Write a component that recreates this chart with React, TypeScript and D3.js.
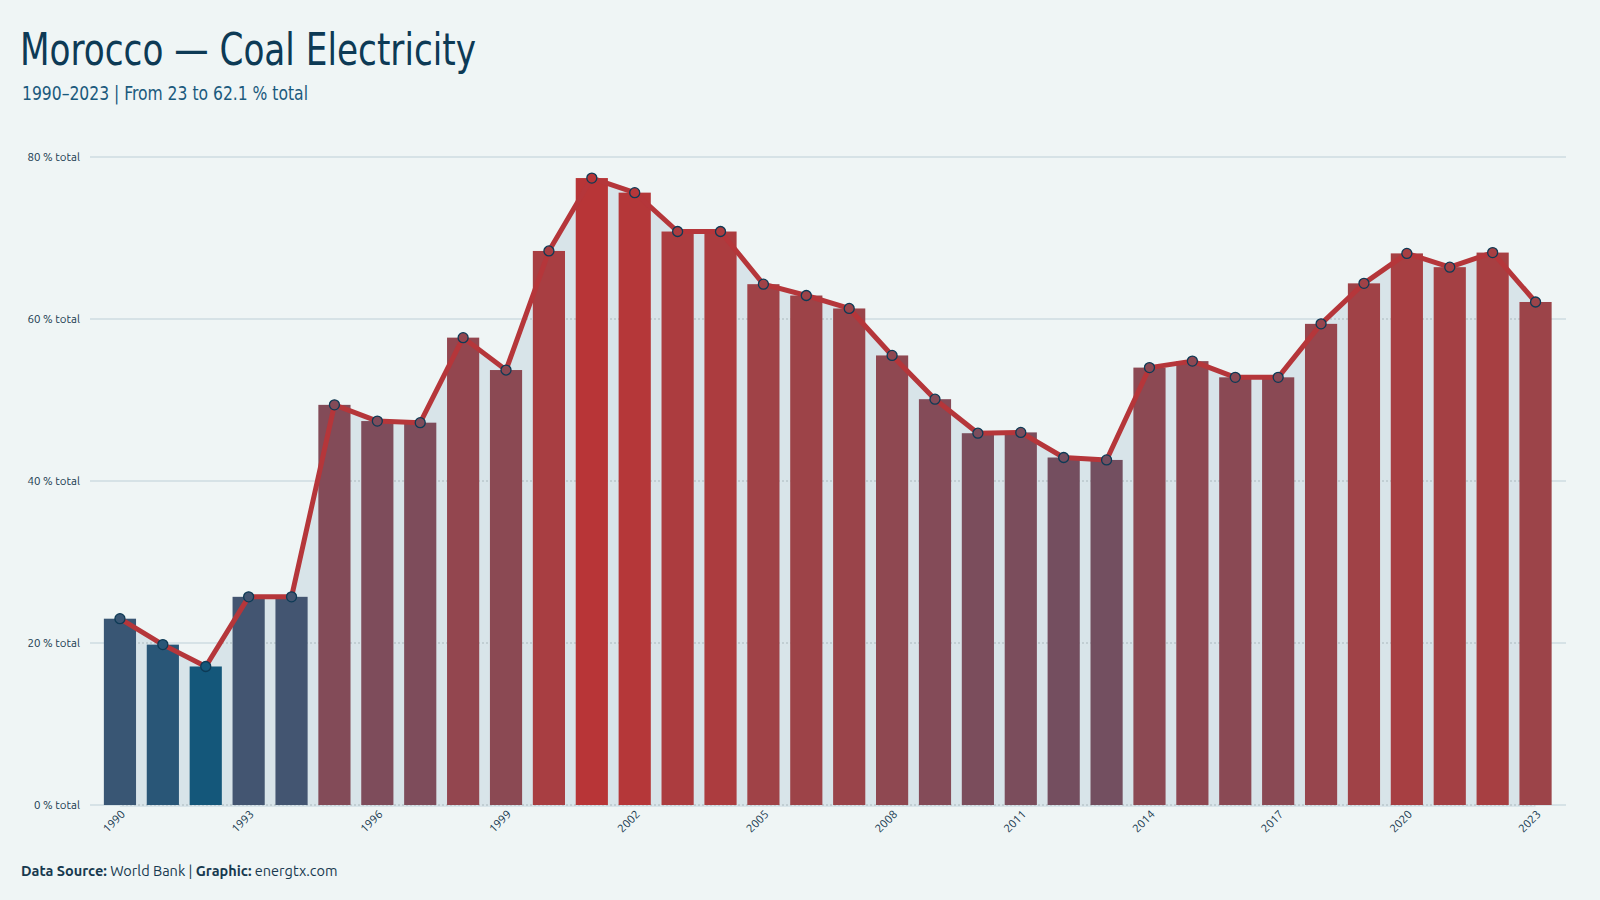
import React from 'react'
import * as d3 from 'd3'

// Morocco coal share of electricity, % of total
const years = [
  1990, 1991, 1992, 1993, 1994, 1995, 1996, 1997, 1998, 1999,
  2000, 2001, 2002, 2003, 2004, 2005, 2006, 2007, 2008, 2009,
  2010, 2011, 2012, 2013, 2014, 2015, 2016, 2017, 2018, 2019,
  2020, 2021, 2022, 2023,
]
const coalShare = [
  23.0, 19.8, 17.1, 25.7, 25.7, 49.4, 47.4, 47.2, 57.7, 53.7,
  68.4, 77.4, 75.6, 70.8, 70.8, 64.3, 62.9, 61.3, 55.5, 50.1,
  45.9, 46.0, 42.9, 42.6, 54.0, 54.8, 52.8, 52.8, 59.4, 64.4,
  68.1, 66.4, 68.2, 62.1,
]
const yTicks = [0, 20, 40, 60, 80]
const xTickYears = [1990, 1993, 1996, 1999, 2002, 2005, 2008, 2011, 2014, 2017, 2020, 2023]

const W = 1600
const H = 900
const bg = '#eff5f5'
const ink = '#0d3a55'

const data = years.map((y, i) => ({ year: y, value: coalShare[i] }))

function App() {
  const x = d3
    .scaleBand<number>()
    .domain(years)
    .range([98.5, 1557])
    .paddingInner(0.25)
    .paddingOuter(0.125)
  const y = d3.scaleLinear().domain([0, 80]).range([805, 157])

  const lo = d3.min(coalShare) as number
  const hi = d3.max(coalShare) as number
  const color = d3
    .scaleLinear<string>()
    .domain([lo, (lo + hi) / 2, hi])
    .range(['#14577a', '#7e4c5b', '#b83537'])
    .interpolate(d3.interpolateLab)

  const cx = (d: { year: number }) => (x(d.year) as number) + x.bandwidth() / 2

  const area = d3
    .area<{ year: number; value: number }>()
    .x(cx)
    .y0(y(0) + 2)
    .y1((d) => y(d.value))
  const line = d3
    .line<{ year: number; value: number }>()
    .x(cx)
    .y((d) => y(d.value))

  const font = "'Ubuntu', 'Noto Sans', 'Open Sans', sans-serif"
  const areaPath = area(data) as string

  return (
    <svg width={W} height={H} style={{ display: 'block', position: 'absolute', left: 0, top: 0 }}>
      <defs>
        <clipPath id="under-line">
          <path d={areaPath} />
        </clipPath>
      </defs>
      <rect width={W} height={H} fill={bg} />

      <text
        x={20}
        y={65}
        fontFamily="'Ubuntu Condensed', 'DejaVu Sans Condensed', 'Liberation Sans Narrow', 'Noto Sans', sans-serif"
        fontSize={44}
        fill={ink}
        textLength={456}
        lengthAdjust="spacingAndGlyphs"
      >
        Morocco — Coal Electricity
      </text>
      <text
        x={22}
        y={100}
        fontFamily="'Ubuntu Condensed', 'DejaVu Sans Condensed', 'Liberation Sans Narrow', 'Noto Sans', sans-serif"
        fontSize={20}
        fill="#1b5a7d"
        textLength={286}
        lengthAdjust="spacingAndGlyphs"
      >
        1990–2023 | From 23 to 62.1 % total
      </text>

      {/* grid */}
      {yTicks.map((t) => (
        <g key={t}>
          <line x1={90} x2={1566} y1={y(t)} y2={y(t)} stroke="#d6e2e6" strokeWidth={2} />
          <text
            x={80}
            y={y(t)}
            dy="0.35em"
            textAnchor="end"
            fontFamily={font}
            fontSize={11.5}
            fill="#17394f"
          >
            {t} % total
          </text>
        </g>
      ))}

      <path d={areaPath} fill="#d8e4e9" />

      <g clipPath="url(#under-line)">
        {yTicks.map((t) => (
          <line
            key={'d' + t}
            x1={90}
            x2={1566}
            y1={y(t)}
            y2={y(t)}
            stroke="#aab8bd"
            strokeWidth={1}
            strokeDasharray="2,2"
          />
        ))}
      </g>

      {data.map((d) => (
        <rect
          key={d.year}
          x={x(d.year)}
          y={y(d.value)}
          width={x.bandwidth()}
          height={y(0) - y(d.value)}
          fill={color(d.value)}
        />
      ))}

      <path d={line(data) as string} fill="none" stroke="#b5363a" strokeWidth={5} strokeLinejoin="round" />

      {data.map((d) => (
        <circle
          key={'c' + d.year}
          cx={cx(d)}
          cy={y(d.value)}
          r={5}
          fill={color(d.value)}
          stroke={ink}
          strokeWidth={1.3}
        />
      ))}

      {xTickYears.map((yr) => (
        <text
          key={'x' + yr}
          transform={`translate(${(x(yr) as number) + x.bandwidth() / 2 + 6},${815}) rotate(-45)`}
          textAnchor="end"
          fontFamily={font}
          fontSize={11.5}
          fill="#17394f"
        >
          {yr}
        </text>
      ))}

      <text x={21} y={876} fontFamily={font} fontSize={14.5} fill="#17394f">
        <tspan fontWeight="bold">Data Source:</tspan>
        <tspan> World Bank | </tspan>
        <tspan fontWeight="bold">Graphic:</tspan>
        <tspan> energtx.com</tspan>
      </text>
    </svg>
  )
}

export default App
